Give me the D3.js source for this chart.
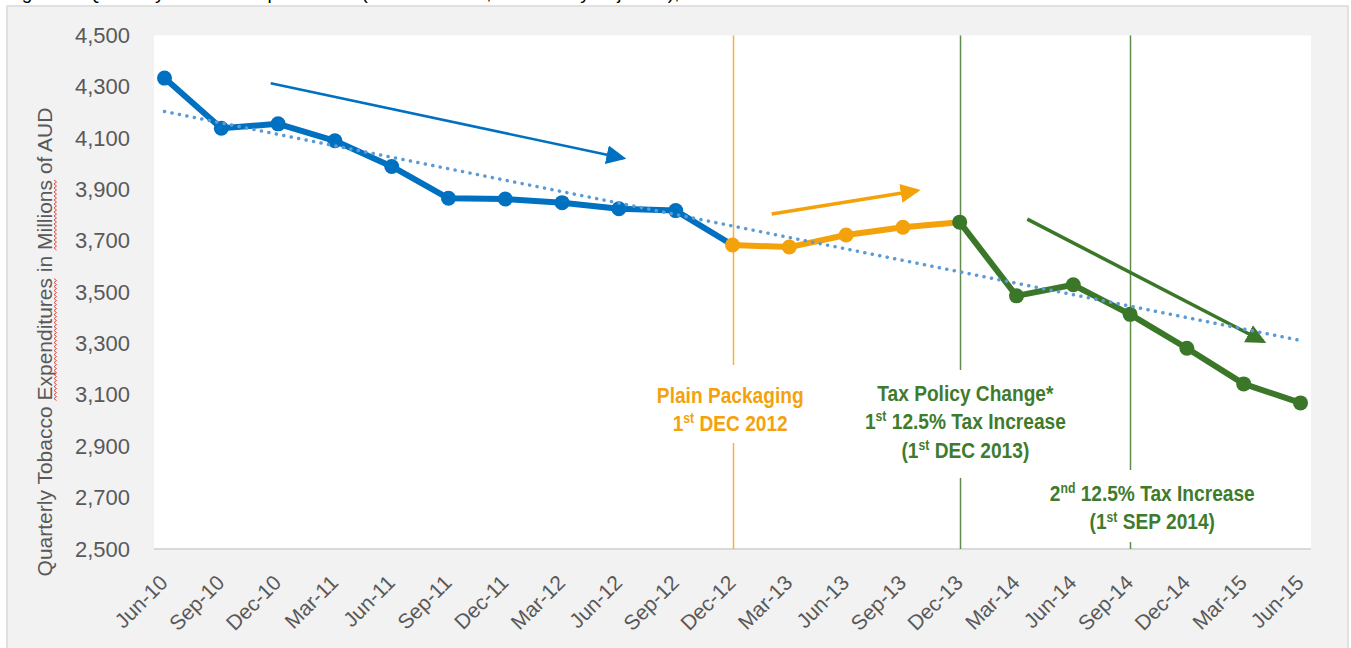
<!DOCTYPE html>
<html>
<head>
<meta charset="utf-8">
<title>Quarterly Tobacco Expenditures</title>
<style>
  body { margin: 0; background: #ffffff; }
  svg { display: block; font-family: "Liberation Sans", Arial, sans-serif; }
  .axis path, .axis line { display: none; }
  .axis text { fill: #595959; font-family: "Liberation Sans", Arial, sans-serif; }
</style>
</head>
<body>
<script src="https://cdn.jsdelivr.net/npm/d3@7/dist/d3.min.js"></script>
<script>

// ---- data ----
var categories = ["Jun-10","Sep-10","Dec-10","Mar-11","Jun-11","Sep-11","Dec-11","Mar-12","Jun-12","Sep-12",
                  "Dec-12","Mar-13","Jun-13","Sep-13","Dec-13","Mar-14","Jun-14","Sep-14","Dec-14","Mar-15","Jun-15"];

// Jun-10 .. Dec-12
var beforePlainPackaging = [4334, 4139, 4156, 4090, 3990, 3866, 3863, 3849, 3825, 3818, 3684];
// Dec-12 .. Dec-13
var afterPlainPackaging = [3684, 3676, 3723, 3753, 3773];
// Dec-13 .. Jun-15
var afterTaxIncrease = [3773, 3486, 3529, 3414, 3282, 3143, 3069];

var yTicks = [2500, 2700, 2900, 3100, 3300, 3500, 3700, 3900, 4100, 4300, 4500];

// dotted linear trend, first and last quarter
var trendValues = [4204, 3312];

// trend arrows: [category index, value] start and end
var arrowStarts = [[1.87, 4314], [10.69, 3805], [15.19, 3785]];
var arrowEnds   = [[8.08, 4022], [13.26, 3896], [19.35, 3308]];

// policy events
var eventCategories = ["Dec-12", "Dec-13", "Sep-14"];
var eventGaps = [[3217, 2913], [3197, 2777], [2808, 2527]];   // where the line breaks for the text
var eventLabels = [
  ["Plain Packaging", "1^st DEC 2012"],
  ["Tax Policy Change*", "1^st 12.5% Tax Increase", "(1^st DEC 2013)"],
  ["2^nd 12.5% Tax Increase", "(1^st SEP 2014)"]
];
var eventLabelPos = [[9.96, 3069], [14.10, 3077], [17.39, 2687]];  // centre index, first baseline value

// ---- styles ----
var blue = "#0070c0", orange = "#f4a20c", green = "#3b7729";
var seriesColors = [blue, orange, green];
var eventLineColors = ["#f5b13f", "#5f8c4a", "#5f8c4a"];
var eventTextColors = [orange, "#3f7b2c", "#3f7b2c"];

var width = 1351, height = 648;
var plot = {left: 154, right: 1311, top: 35.5, bottom: 549};

var svg = d3.select("body").append("svg")
    .attr("width", width)
    .attr("height", height);

// caption above the chart, cut off by the top of the picture
svg.append("text")
    .attr("x", 6).attr("y", -1)
    .attr("font-size", 19)
    .attr("fill", "#000")
    .text("Figure 1: Quarterly Tobacco Expenditures (Chain Volume, Seasonally Adjusted), Australia");

// grey chart area
svg.append("rect")
    .attr("x", 7).attr("y", 6)
    .attr("width", 1341).attr("height", 660)
    .attr("fill", "#f2f2f2")
    .attr("stroke", "#d9d9d9")
    .attr("stroke-width", 1.5);

svg.append("rect")
    .attr("x", plot.left).attr("y", plot.top)
    .attr("width", plot.right - plot.left).attr("height", plot.bottom - plot.top)
    .attr("fill", "#ffffff");

// scales
var x = d3.scalePoint()
    .domain(categories)
    .range([plot.left, plot.right])
    .padding(0.185);

var xi = d3.scaleLinear()
    .domain([0, categories.length - 1])
    .range([x(categories[0]), x(categories[categories.length - 1])]);

var y = d3.scaleLinear()
    .domain([2500, 4500])
    .range([plot.bottom, plot.top]);

// bottom axis line
svg.append("line")
    .attr("x1", plot.left).attr("x2", plot.right)
    .attr("y1", y(2500)).attr("y2", y(2500))
    .attr("stroke", "#d9d9d9")
    .attr("stroke-width", 2);

// y axis
var yAxis = svg.append("g")
    .attr("class", "axis")
    .attr("transform", "translate(130,0)")
    .call(d3.axisLeft(y).tickValues(yTicks).tickFormat(d3.format(",")).tickSize(0).tickPadding(0));
yAxis.selectAll("text").attr("font-size", 22);

// x axis
var xAxis = svg.append("g")
    .attr("class", "axis")
    .attr("transform", "translate(0," + plot.bottom + ")")
    .call(d3.axisBottom(x).tickSize(0));
xAxis.selectAll("text")
    .attr("font-size", 21)
    .attr("y", 0).attr("dy", 0)
    .attr("text-anchor", "end")
    .attr("transform", "translate(4,35) rotate(-45)");

// y axis title with the spell-check squiggles
var titleG = svg.append("g").attr("transform", "translate(52,342) rotate(-90)");
var yTitleStr = "Quarterly Tobacco Expenditures in Millions of AUD";
var yTitle = titleG.append("text")
    .attr("text-anchor", "middle")
    .attr("font-size", 21)
    .attr("fill", "#595959")
    .text(yTitleStr);
var total = yTitle.node().getComputedTextLength();
["Expenditures", "Millions"].forEach(function(word) {
  var idx = yTitleStr.indexOf(word);
  var x0 = -total / 2 + yTitle.node().getSubStringLength(0, idx);
  var len = yTitle.node().getSubStringLength(idx, word.length);
  var pts = [];
  for (var t = 0; t <= len; t += 2) pts.push([x0 + t, (Math.round(t / 2) % 2) ? 2 : 4.5]);
  titleG.append("path")
      .attr("d", d3.line()(pts))
      .attr("fill", "none")
      .attr("stroke", "#e8453c")
      .attr("stroke-width", 1);
});

// event lines
eventCategories.forEach(function(c, i) {
  var ex = Math.round(x(c)) + 0.5;
  [[4500, eventGaps[i][0]], [eventGaps[i][1], 2500]].forEach(function(seg) {
    svg.append("line")
        .attr("x1", ex).attr("x2", ex)
        .attr("y1", y(seg[0])).attr("y2", y(seg[1]))
        .attr("stroke", eventLineColors[i])
        .attr("stroke-width", 1.5);
  });
});

// event labels
eventLabels.forEach(function(lines, i) {
  lines.forEach(function(line, j) {
    var g = svg.append("g")
        .attr("transform", "translate(" + xi(eventLabelPos[i][0]) + "," + (y(eventLabelPos[i][1]) + j * 28.5) + ") scale(0.87,1)");
    var t = g.append("text")
        .attr("text-anchor", "middle")
        .attr("font-size", 22)
        .attr("font-weight", "bold")
        .attr("fill", eventTextColors[i]);
    var parts = line.split("^");
    t.append("tspan").text(parts[0]);
    if (parts.length > 1) {
      var sup = parts[1].slice(0, 2), rest = parts[1].slice(2);
      t.append("tspan").attr("font-size", 14).attr("dy", -8).text(sup);
      t.append("tspan").attr("dy", 8).text(rest);
    }
  });
});

// arrow heads
var defs = svg.append("defs");
seriesColors.forEach(function(col, i) {
  defs.append("marker")
      .attr("id", "head" + i)
      .attr("markerUnits", "userSpaceOnUse")
      .attr("viewBox", "0 -10 20 20")
      .attr("markerWidth", 20).attr("markerHeight", 20)
      .attr("refX", 17).attr("refY", 0)
      .attr("orient", "auto")
    .append("path")
      .attr("d", "M0,-9.5L20,0L0,9.5Z")
      .attr("fill", col);
});

arrowStarts.forEach(function(s, i) {
  svg.append("line")
      .attr("x1", xi(s[0])).attr("y1", y(s[1]))
      .attr("x2", xi(arrowEnds[i][0])).attr("y2", y(arrowEnds[i][1]))
      .attr("stroke", seriesColors[i])
      .attr("stroke-width", i === 0 ? 2.5 : 3.5)
      .attr("marker-end", "url(#head" + i + ")");
});

// series
var series = [
  {start: 0, values: beforePlainPackaging},
  {start: 10, values: afterPlainPackaging},
  {start: 14, values: afterTaxIncrease}
];

var line = d3.line()
    .x(function(d) { return x(d.c); })
    .y(function(d) { return y(d.v); });

series.forEach(function(s, i) {
  var pts = s.values.map(function(v, k) { return {c: categories[s.start + k], v: v}; });
  svg.append("path")
      .datum(pts)
      .attr("d", line)
      .attr("fill", "none")
      .attr("stroke", seriesColors[i])
      .attr("stroke-width", 6)
      .attr("stroke-linejoin", "round");
  var dots = i < 2 ? pts.slice(0, pts.length - 1) : pts;
  svg.selectAll(null)
      .data(dots)
      .enter()
      .append("circle")
      .attr("cx", function(d) { return x(d.c); })
      .attr("cy", function(d) { return y(d.v); })
      .attr("r", 7.5)
      .attr("fill", seriesColors[i]);
});

// dotted trend line
svg.append("path")
    .datum([{i: 0, v: trendValues[0]}, {i: categories.length - 1, v: trendValues[1]}])
    .attr("d", d3.line().x(function(d) { return xi(d.i); }).y(function(d) { return y(d.v); }))
    .attr("fill", "none")
    .attr("stroke", "#5b9bd5")
    .attr("stroke-width", 3.5)
    .attr("stroke-linecap", "round")
    .attr("stroke-dasharray", "0.1 7.5");

</script>
</body>
</html>
